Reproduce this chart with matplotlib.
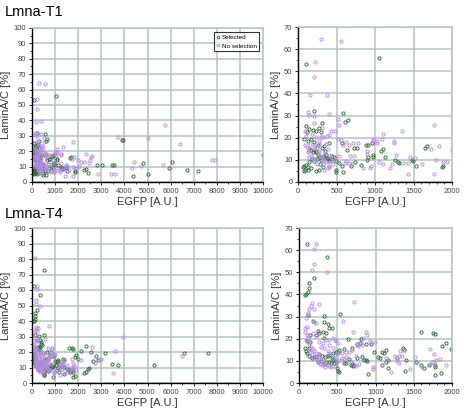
import numpy as np
import matplotlib
matplotlib.use("Agg")
import matplotlib.pyplot as plt
from matplotlib.ticker import MultipleLocator

plt.rcParams['font.family'] = ['Liberation Sans', 'DejaVu Sans']

# EGFP [A.U.], LaminA/C [%]
t1_selected = [
    (100, 53.5), (1048, 55.8), (212, 31.9), (580, 31), (615, 26.9), (645, 28), (104, 25.1), (117, 22.4),
    (147, 23.9), (190, 23.5), (307, 26.5), (277, 24.4), (234, 22.9), (299, 22.4), (82, 19.4), (126, 18.4),
    (169, 19.4), (203, 17.9), (255, 16.9), (342, 16.4), (407, 17.5), (312, 15.4), (355, 14.1), (571, 17.6),
    (632, 14.4), (732, 15.2), (762, 15.2), (883, 16.7), (905, 16.9), (961, 17.6), (1082, 14.1), (1100, 14.9),
    (1126, 11.1), (1264, 9.9), (1654, 15.4), (1675, 16.1), (1481, 9.9), (1489, 9.3), (1533, 7.4), (1866, 6.6),
    (1295, 8.9), (1308, 8.4), (970, 12.2), (978, 11.1), (892, 9.9), (905, 11.4), (818, 7.7), (745, 8.9),
    (688, 7.1), (589, 4.7), (493, 5.6), (493, 4.7), (567, 7.4), (537, 8.6), (407, 9.3), (385, 10.4),
    (442, 10.4), (442, 11.9), (277, 5.6), (234, 5.1), (169, 6.3), (126, 5.6), (95, 5.6), (82, 5.1),
    (104, 7.8), (126, 6.9), (147, 8.9), (182, 10.4), (212, 9.3), (242, 10.4), (277, 11.1), (299, 9.9),
    (320, 11.9), (255, 12.3), (234, 13.4), (342, 11.1), (364, 12.3), (372, 10.7), (286, 8.1), (320, 6.9),
    (190, 13.4), (225, 14.1), (139, 14.9), (82, 7.4), (69, 6.6), (169, 14.4), (493, 9.6), (472, 11.1),
    (1880, 7.2), (2238, 8), (2410, 5.9), (2826, 10.9), (3013, 10.9), (3443, 11.3), (3557, 11.3), (2324, 8.5),
    (3902, 27.4), (3959, 27.2), (4362, 4.1), (4792, 12.2), (5022, 5), (5910, 9.3), (6054, 13), (6700, 7.6),
    (7188, 7.4), (9990, 17.4),
]
t1_no_selection = [
    (299, 64.4), (558, 63.5), (221, 54), (212, 47.3), (160, 39.1), (377, 39.4), (134, 31.5), (147, 30.4),
    (212, 30), (407, 30.9), (515, 28.4), (537, 25.9), (307, 24.2), (203, 26.6), (95, 23.2), (104, 20.9),
    (299, 20.2), (329, 20.2), (377, 20.9), (407, 21.2), (429, 23.2), (481, 22.9), (234, 20.2), (182, 21.7),
    (515, 19.4), (558, 19), (623, 17.9), (710, 17.6), (775, 17.5), (580, 16.9), (667, 16.6), (978, 19.4),
    (970, 18.4), (1026, 18.7), (1030, 17.6), (1100, 21.5), (1096, 19.4), (1242, 18.4), (1251, 17.6), (1350, 22.9),
    (1762, 25.9), (1835, 16.1), (1995, 14.6), (1723, 14.7), (1273, 12.2), (1459, 11.1), (1519, 10.7), (1359, 8.4),
    (1424, 8.4), (1610, 8.1), (1792, 9.9), (1879, 8.9), (1931, 8.9), (1770, 3.8), (1433, 3.6), (1199, 6.3),
    (1221, 8.1), (1056, 9.2), (1100, 8.1), (935, 6.3), (948, 7.4), (840, 6.3), (896, 14.1), (896, 12.6),
    (680, 11.9), (732, 11.6), (701, 8.1), (667, 8.4), (610, 8.4), (623, 9.6), (537, 11.9), (493, 9.9),
    (407, 12.3), (429, 11.6), (442, 9.6), (450, 8.1), (407, 6.6), (385, 6.3),
    (190, 17.9), (212, 16.4), (225, 15.7), (242, 15.4), (255, 14.1), (277, 13.4), (286, 11.9), (312, 11.4),
    (320, 10.4), (342, 9.6), (234, 10.4), (212, 9.6), (199, 10.8), (169, 11.9), (147, 14.1), (126, 13.4),
    (139, 11.1), (95, 16.9), (113, 15.7), (156, 16.6), (268, 17.2), (277, 18.7), (355, 12.9), (364, 17.2),
    (385, 14.9), (242, 8.1), (320, 8.1), (364, 8.9), (398, 7.4), (333, 5.6),
    (2324, 18.3), (2496, 14.6), (2568, 16.3), (2611, 17.2), (2252, 13), (2138, 13), (2037, 10.4), (2467, 12.4),
    (2855, 5), (3400, 5), (3573, 5), (3716, 28.9), (4333, 9.1), (4433, 13), (4720, 10.2), (5007, 28.3),
    (5767, 37), (5681, 10.9), (5968, 9.1), (6413, 24.6), (7805, 14.6), (7905, 14.6),
]
t4_selected = [
    (100, 62.6), (364, 56.7), (200, 47.3), (134, 45), (126, 43), (113, 41.2), (91, 40), (82, 39.7),
    (113, 30.7), (178, 28), (321, 30.2), (330, 27.7), (373, 26.5), (395, 25), (429, 24.7), (538, 31),
    (243, 23.5), (265, 22.4), (221, 21.7), (143, 21.7), (317, 23.2), (351, 22.4), (330, 20.2), (100, 19),
    (143, 18.4), (646, 19.7), (807, 19.9), (937, 17.5), (794, 17.9), (763, 17.5), (872, 17.5), (690, 15.7),
    (590, 15.4), (525, 14.9), (516, 14.1), (482, 13.8), (438, 13.4), (395, 12.6), (373, 12.2), (343, 11.7),
    (299, 12.3), (256, 12.9), (221, 11.9), (200, 11.9), (169, 11.1), (134, 12.3), (104, 13.4), (91, 14.4),
    (82, 15.7), (134, 16), (243, 9.3), (286, 9.9), (395, 9.6), (416, 9.2), (460, 8.9), (482, 9.6),
    (330, 8.4), (351, 9.6), (429, 11.4), (447, 10.8), (503, 6.6), (516, 5.4), (525, 5.1), (590, 8.9),
    (612, 8.9), (655, 10.7), (677, 8.1), (698, 8.4), (707, 7.8), (720, 8.1), (850, 10.4), (872, 10.4),
    (885, 10.1), (898, 3.9), (980, 14.1), (828, 11.9), (763, 11.1), (1037, 11.9), (1054, 11.4), (1080, 14.1),
    (1111, 13.4), (1132, 14.9), (1158, 10.4), (1132, 9.6), (1080, 8.1), (1158, 6.9), (1284, 11.1), (1362, 15.7),
    (1371, 14.9), (1401, 10.4), (1392, 5.6), (1523, 9.3), (1596, 22.9), (1601, 8.1), (1631, 6.9), (1696, 8.1),
    (1774, 7.1), (1774, 8.1), (1753, 22.4), (1774, 22), (1783, 3.6), (1861, 4.4), (1870, 16.7), (1922, 18.2),
    (1991, 15.2), (531, 72.7),
    (2353, 23.9), (2554, 20), (3156, 19.6), (2783, 17.4), (2855, 15.1), (2640, 14.2), (2425, 9.2), (2467, 9.7),
    (2238, 6.5), (2324, 7.1), (2109, 20.6), (3458, 12), (3716, 11.4), (5265, 11.8), (6600, 19.6), (7633, 19.4),
]
t4_no_selection = [
    (221, 62.8), (200, 60.5), (191, 53.6), (165, 51), (364, 50), (256, 35.5), (169, 36), (156, 34.8),
    (134, 33.3), (200, 33.3), (113, 31.5), (91, 29.2), (720, 36.6), (577, 28.1), (200, 27.7), (221, 26.9),
    (82, 23.2), (100, 21.7), (113, 20.2), (134, 21.7), (82, 24.7), (104, 25.4), (178, 22.4), (230, 21.7),
    (395, 19.4), (438, 20.2), (473, 19.4), (490, 19), (516, 18.2), (707, 22.9), (872, 22.9), (885, 21.7),
    (841, 20.2), (989, 18.4), (807, 17.9), (828, 17.2), (763, 17.6), (698, 14.9), (655, 14.1), (612, 14.1),
    (568, 13.7), (755, 17.2), (777, 16.7), (568, 11.1), (590, 10.7), (742, 12.2), (828, 12.2), (967, 7.1),
    (971, 6.3), (928, 19), (937, 17.9), (1132, 11.1), (1154, 10.4), (1206, 5.1), (1249, 12), (1306, 12.2),
    (1340, 12.2), (1319, 14.4), (1379, 15.1), (1284, 9.9), (1306, 9.2), (1449, 6.3), (1510, 11.9), (1545, 9.6),
    (1610, 7.4), (1718, 8.4), (1748, 9.6), (1718, 15.2), (1761, 12.9), (1796, 10.4), (1839, 10.7), (1922, 8.1),
    (1080, 8.1), (130, 80.8),
    (91, 19.4), (113, 18.4), (134, 17.5), (156, 16.4), (178, 15.4), (200, 14.4), (221, 13.4), (243, 12.6),
    (265, 11.9), (286, 11.1), (308, 10.4), (330, 9.6), (351, 8.9), (373, 8.1), (395, 7.7), (416, 7.4),
    (438, 7.8), (482, 8.4), (503, 9.6), (525, 10.4), (126, 14.9), (143, 13.8), (169, 12.9), (187, 11.9),
    (213, 11.1), (230, 10.4), (256, 9.3), (273, 8.4), (299, 8.1), (343, 7.4), (525, 14.1), (503, 12.9),
    (482, 11.9), (447, 11.1), (429, 12.6), (395, 13.4), (373, 14.4), (330, 15.7), (286, 16.4), (256, 18.4),
    (308, 17.9), (351, 19.4), (395, 17.2), (438, 16), (612, 11.9), (646, 10.8), (677, 9.3), (707, 8.4),
    (742, 7.7), (785, 8.4),
    (3930, 29.7), (3572, 20.4), (3500, 6.7), (2611, 23), (2138, 15), (2927, 14.6), (2999, 15.7), (2711, 12.9),
    (6513, 17.4), (1750, 9.7),
]

GREEN = '#2f6b3b'
PURPLE = '#b68be3'
GRID = '#b3c3c6'

fig = plt.figure(figsize=(4.66, 4.13), dpi=100)
W, H = 466, 413


def px_axes(x0, y0, x1, y1):
    return fig.add_axes([x0 / W, 1 - y1 / H, (x1 - x0) / W, (y1 - y0) / H])


def style(ax, xmax, xmaj, xmin, ymax):
    ax.set_xlim(0, xmax)
    ax.set_ylim(0, ymax)
    ax.xaxis.set_major_locator(MultipleLocator(xmaj))
    ax.xaxis.set_minor_locator(MultipleLocator(xmin))
    ax.yaxis.set_major_locator(MultipleLocator(10))
    ax.yaxis.set_minor_locator(MultipleLocator(5))
    ax.grid(True, which='major', color=GRID, linewidth=1.1)
    ax.set_axisbelow(True)
    for s in ['top', 'right']:
        ax.spines[s].set_color(GRID)
        ax.spines[s].set_linewidth(1.1)
    for s in ['left', 'bottom']:
        ax.spines[s].set_linewidth(1.0)
    ax.tick_params(which='major', length=2.5, width=0.6, labelsize=5.5, pad=1.5, labelcolor='#444444')
    ax.tick_params(which='minor', length=1.5, width=0.5)
    ax.set_xlabel('EGFP [A.U.]', fontsize=8, labelpad=2, color='#333333')
    ax.set_ylabel('LaminA/C [%]', fontsize=8, labelpad=2, color='#333333')


def scatter(ax, sel, nosel, legend=False):
    sel = np.array(sel)
    nosel = np.array(nosel)
    ax.plot(sel[:, 0], sel[:, 1], 'o', ms=2.3, mfc='none', mec=GREEN, mew=0.65, label='Selected')
    ax.plot(nosel[:, 0], nosel[:, 1], 'o', ms=2.3, mfc='none', mec=PURPLE, mew=0.65, label='No selection')
    if legend:
        leg = ax.legend(loc='upper right', fontsize=4.6, frameon=True, fancybox=False,
                        handlelength=0.5, handletextpad=0.3, borderpad=0.4, labelspacing=0.5,
                        borderaxespad=0.6, markerscale=0.8)
        leg.get_frame().set_edgecolor('black')
        leg.get_frame().set_linewidth(0.8)


ax1 = px_axes(32, 28, 263, 182)
scatter(ax1, t1_selected, t1_no_selection, legend=True)
style(ax1, 10000, 1000, 500, 100)

ax2 = px_axes(298, 27, 452, 182)
scatter(ax2, t1_selected, t1_no_selection)
style(ax2, 2000, 500, 100, 70)

ax3 = px_axes(32, 228, 263, 383)
scatter(ax3, t4_selected, t4_no_selection)
style(ax3, 10000, 1000, 500, 100)

ax4 = px_axes(299, 228, 452, 383)
scatter(ax4, t4_selected, t4_no_selection)
style(ax4, 2000, 500, 100, 70)

fig.text(5 / W, 1 - 5 / H, 'Lmna-T1', fontsize=10.5, va='top', ha='left')
fig.text(5 / W, 1 - 207 / H, 'Lmna-T4', fontsize=10.5, va='top', ha='left')

fig.savefig('out.png', dpi=100)
